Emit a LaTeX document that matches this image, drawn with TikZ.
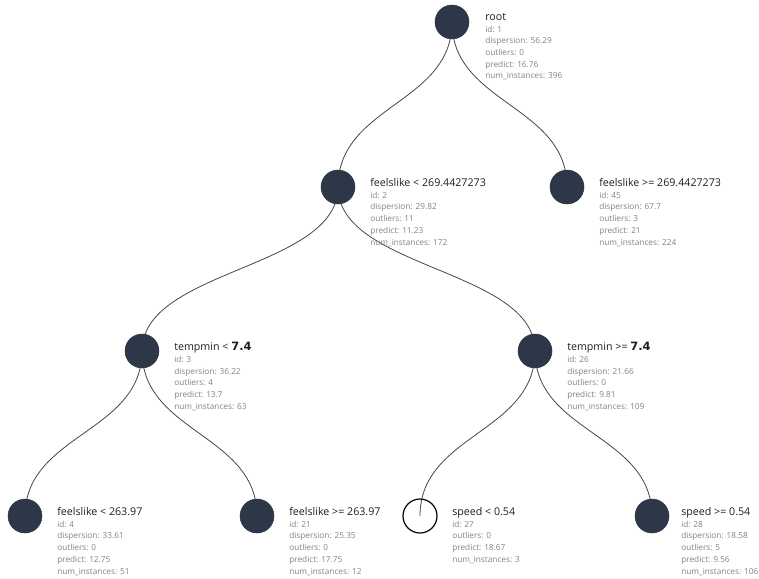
\documentclass[tikz,border=0pt]{standalone}
\usepackage{fontspec}
\setmainfont{Open Sans}
\newfontfamily\numfont{DejaVu Sans}
\usetikzlibrary{backgrounds}
\definecolor{nodenavy}{RGB}{45,55,72}
\definecolor{titlegray}{RGB}{30,30,30}
\definecolor{detailgray}{RGB}{130,130,130}
\definecolor{linkgray}{RGB}{70,70,70}
\newcommand\nodetitle[1]{{\color{titlegray}\fontsize{8}{8.8}\selectfont #1}}
\newcommand\splitval[1]{{\color{nodenavy!60!black}\numfont\bfseries\fontsize{8.6}{8.8}\selectfont #1}}

\begin{document}
\begin{tikzpicture}[x=0.75pt, y=-0.75pt,
    split/.style={circle, fill=nodenavy, draw=nodenavy, minimum size=25.5pt, inner sep=0pt},
    empty/.style={circle, draw=black, line width=0.9pt, minimum size=25.5pt, inner sep=0pt},
    info/.style={anchor=north west, align=left, inner sep=0pt, text=detailgray,
                 font=\fontsize{6.2}{8.8}\selectfont},
    link/.style={draw=linkgray, line width=0.6pt}
]
\useasboundingbox (0,0) rectangle (759,578);

% tree nodes
\node[split] (root) at (452,22) {};
\node[split] (n2) at (338,187) {};
\node[split] (n45) at (567,187) {};
\node[split] (n3) at (142,351) {};
\node[split] (n26) at (535,351) {};
\node[split] (n4) at (25,516) {};
\node[split] (n21) at (257,516) {};
\node[empty] (n27) at (420,516) {};
\node[split] (n28) at (652,516) {};

% node details
\node[info] (root-info) at (485,13) {\nodetitle{root}\\id: 1\\dispersion: 56.29\\outliers: 0\\predict: 16.76\\num\_instances: 396};
\node[info] (n2-info) at (370,178) {\nodetitle{feelslike < 269.4427273}\\id: 2\\dispersion: 29.82\\outliers: 11\\predict: 11.23\\num\_instances: 172};
\node[info] (n45-info) at (599,178) {\nodetitle{feelslike >= 269.4427273}\\id: 45\\dispersion: 67.7\\outliers: 3\\predict: 21\\num\_instances: 224};
\node[info] (n3-info) at (174,342) {\nodetitle{tempmin < \splitval{7.4}}\\id: 3\\dispersion: 36.22\\outliers: 4\\predict: 13.7\\num\_instances: 63};
\node[info] (n26-info) at (567,342) {\nodetitle{tempmin >= \splitval{7.4}}\\id: 26\\dispersion: 21.66\\outliers: 0\\predict: 9.81\\num\_instances: 109};
\node[info] (n4-info) at (57,507) {\nodetitle{feelslike < 263.97}\\id: 4\\dispersion: 33.61\\outliers: 0\\predict: 12.75\\num\_instances: 51};
\node[info] (n21-info) at (289,507) {\nodetitle{feelslike >= 263.97}\\id: 21\\dispersion: 25.35\\outliers: 0\\predict: 17.75\\num\_instances: 12};
\node[info] (n27-info) at (452,507) {\nodetitle{speed < 0.54}\\id: 27\\outliers: 0\\predict: 18.67\\num\_instances: 3};
\node[info] (n28-info) at (681,507) {\nodetitle{speed >= 0.54}\\id: 28\\dispersion: 18.58\\outliers: 5\\predict: 9.56\\num\_instances: 106};

% links
\begin{scope}[on background layer]
\draw[link] (root.center) .. controls +(0,82) and +(0,-82) .. (n2.center);
\draw[link] (root.center) .. controls +(0,82) and +(0,-82) .. (n45.center);
\draw[link] (n2.center) .. controls +(0,82) and +(0,-82) .. (n3.center);
\draw[link] (n2.center) .. controls +(0,82) and +(0,-82) .. (n26.center);
\draw[link] (n3.center) .. controls +(0,82) and +(0,-82) .. (n4.center);
\draw[link] (n3.center) .. controls +(0,82) and +(0,-82) .. (n21.center);
\draw[link] (n26.center) .. controls +(0,82) and +(0,-82) .. (n27.center);
\draw[link] (n26.center) .. controls +(0,82) and +(0,-82) .. (n28.center);
\end{scope}
\end{tikzpicture}
\end{document}
